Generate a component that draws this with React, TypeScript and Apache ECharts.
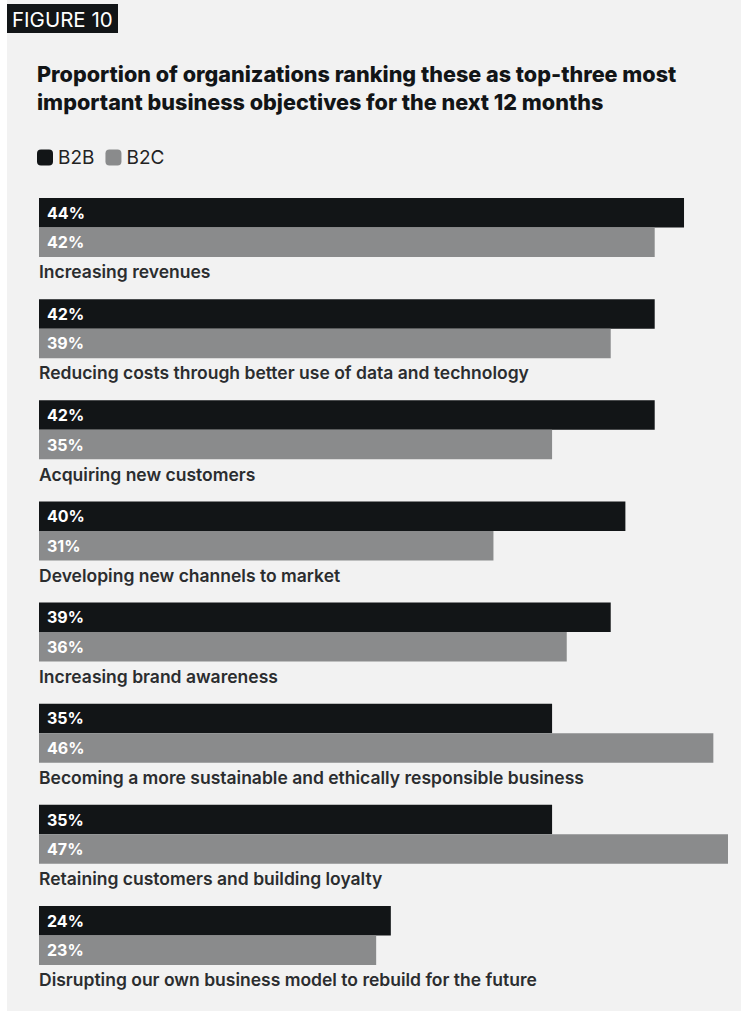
import React, { useEffect, useRef } from "react";
import * as echarts from "echarts";

const categories = [
  "Increasing revenues",
  "Reducing costs through better use of data and technology",
  "Acquiring new customers",
  "Developing new channels to market",
  "Increasing brand awareness",
  "Becoming a more sustainable and ethically responsible business",
  "Retaining customers and building loyalty",
  "Disrupting our own business model to rebuild for the future",
];
const b2bValues = [44, 42, 42, 40, 39, 35, 35, 24];
const b2cValues = [42, 39, 35, 31, 36, 46, 47, 23];
const seriesNames = ["B2B", "B2C"];
const figureLabel = "FIGURE 10";
const titleLines = [
  "Proportion of organizations ranking these as top-three most",
  "important business objectives for the next 12 months",
];

const FONT = "Inter, 'Noto Sans', sans-serif";

export default function App() {
  const ref = useRef<HTMLDivElement>(null);
  useEffect(() => {
    document.body.style.margin = "0";
    if (!ref.current) return;
    const chart = echarts.init(ref.current, undefined, { renderer: "svg" });
    const barW = 29.5;
    chart.setOption({
      animation: false,
      backgroundColor: "#ffffff",
      textStyle: { fontFamily: FONT },
      graphic: [
        { type: "rect", z: -10, shape: { x: 7, y: 0, width: 734, height: 1011 }, style: { fill: "#f2f2f2" } },
        { type: "rect", shape: { x: 7, y: 4, width: 111, height: 29 }, style: { fill: "#121517" } },
        {
          type: "text",
          x: 12,
          y: 19,
          style: { text: figureLabel, fill: "#ffffff", font: `400 20.5px ${FONT}`, textVerticalAlign: "middle" },
        },
      ],
      title: {
        text: titleLines.join("\n"),
        left: 37,
        top: 60,
        padding: 0,
        textStyle: { fontFamily: FONT, fontSize: 21.6, fontWeight: 800, lineHeight: 28, color: "#121517" },
      },
      legend: {
        data: seriesNames,
        left: 37,
        top: 148,
        padding: 0,
        itemWidth: 16,
        itemHeight: 16,
        itemGap: 11,
        icon: "roundRect",
        textStyle: { fontFamily: FONT, fontSize: 19, color: "#222222", padding: [0, 0, 0, 0] },
        selectedMode: false,
      },
      grid: { left: 39, right: 16, top: 191.7, height: 809.1 },
      xAxis: { type: "value", min: 0, max: 47, show: false },
      yAxis: {
        type: "category",
        data: categories,
        inverse: true,
        show: false,
      },
      series: [
        {
          name: seriesNames[0],
          type: "bar",
          data: b2bValues,
          barWidth: barW,
          barGap: "0%",
          itemStyle: { color: "#121517" },
          label: {
            show: true,
            position: "insideLeft",
            distance: 8,
            formatter: "{c}%",
            color: "#ffffff",
            fontFamily: FONT,
            fontSize: 16,
            fontWeight: 700,
          },
        },
        {
          name: seriesNames[1],
          type: "bar",
          data: b2cValues,
          barWidth: barW,
          barGap: "0%",
          itemStyle: { color: "#8a8b8c" },
          label: {
            show: true,
            position: "insideLeft",
            distance: 8,
            formatter: "{c}%",
            color: "#ffffff",
            fontFamily: FONT,
            fontSize: 16,
            fontWeight: 700,
          },
        },
        {
          name: "labels",
          type: "bar",
          data: categories.map(() => 0),
          barWidth: barW,
          barGap: "0%",
          silent: true,
          itemStyle: { color: "rgba(0,0,0,0)" },
          label: {
            show: true,
            position: "right",
            distance: 0,
            formatter: (p: any) => categories[p.dataIndex],
            color: "#2b2d2f",
            fontFamily: FONT,
            fontSize: 17.5,
            fontWeight: 600,
          },
        },
      ],
    });
    return () => chart.dispose();
  }, []);
  return <div ref={ref} style={{ width: 744, height: 1013 }} />;
}
